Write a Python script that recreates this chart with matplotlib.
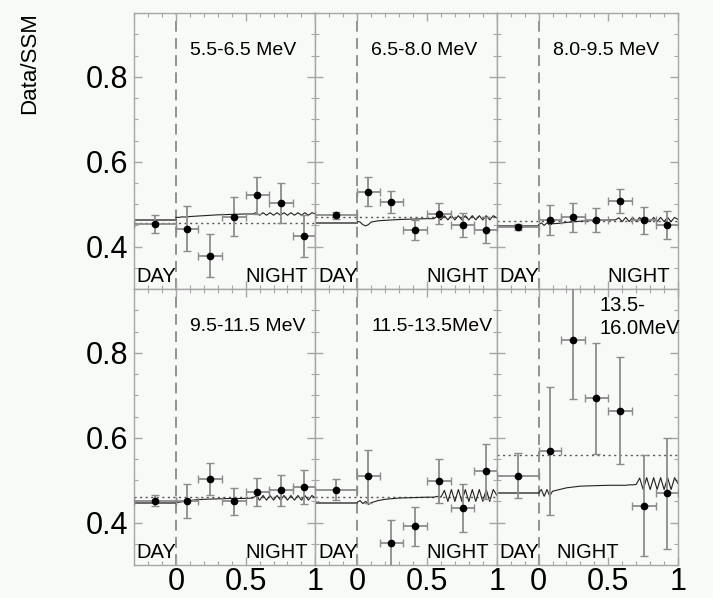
import matplotlib
matplotlib.use("Agg")
import matplotlib.pyplot as plt
import numpy as np
from matplotlib.ticker import MultipleLocator, FixedLocator

plt.rcParams['font.family'] = ['Liberation Sans', 'DejaVu Sans']

# energy bins, one panel each
energy_bins = ['5.5-6.5 MeV', '6.5-8.0 MeV', '8.0-9.5 MeV',
               '9.5-11.5 MeV', '11.5-13.5MeV', '13.5-\n16.0MeV']

# day bin (drawn over the visible part of cos(theta_z) < 0)
day_x, day_xerr = -0.15, 0.15
day_ratio = [0.453, 0.474, 0.447, 0.452, 0.478, 0.511]
day_err = [0.021, 0.008, 0.007, 0.012, 0.024, 0.052]

# night bins in cos(theta_z)
night_edges = [0.0, 0.16, 0.33, 0.50, 0.67, 0.84, 1.0]
night_ratio = [
    [0.442, 0.379, 0.470, 0.521, 0.503, 0.425],
    [0.529, 0.506, 0.439, 0.478, 0.451, 0.439],
    [0.463, 0.469, 0.463, 0.508, 0.462, 0.451],
    [0.450, 0.503, 0.450, 0.473, 0.476, 0.484],
    [0.509, 0.352, 0.391, 0.498, 0.434, 0.521],
    [0.569, 0.831, 0.693, 0.664, 0.440, 0.469],
]
night_err = [
    [0.053, 0.050, 0.046, 0.043, 0.047, 0.049],
    [0.034, 0.026, 0.023, 0.025, 0.029, 0.030],
    [0.036, 0.035, 0.029, 0.029, 0.032, 0.034],
    [0.040, 0.037, 0.031, 0.033, 0.037, 0.039],
    [0.063, 0.054, 0.047, 0.051, 0.057, 0.065],
    [0.150, 0.140, 0.131, 0.127, 0.119, 0.130],
]

# flat average (dotted) and MSW expectation (solid)
average_ratio = [0.456, 0.470, 0.460, 0.460, 0.460, 0.560]
msw_day = [0.463, 0.456, 0.449, 0.447, 0.446, 0.470]
msw_x = [0.0, 0.02, 0.04, 0.06, 0.08, 0.10, 0.15, 0.2, 0.3, 0.4, 0.5, 0.55,
         0.575, 0.6, 0.625, 0.65, 0.675, 0.7, 0.725, 0.75, 0.775, 0.8,
         0.825, 0.85, 0.875, 0.9, 0.925, 0.95, 0.975, 1.0]
msw_night = [
    [0.469, 0.469, 0.470, 0.470, 0.470, 0.471, 0.472, 0.473, 0.475, 0.476, 0.477, 0.477,
     0.480, 0.474, 0.480, 0.474, 0.480, 0.474, 0.480, 0.474, 0.480, 0.474,
     0.480, 0.474, 0.480, 0.474, 0.480, 0.474, 0.480, 0.477],
    [0.460, 0.458, 0.452, 0.449, 0.452, 0.458, 0.461, 0.462, 0.464, 0.465, 0.466, 0.466,
     0.472, 0.463, 0.473, 0.463, 0.473, 0.463, 0.473, 0.463, 0.473, 0.463,
     0.473, 0.463, 0.473, 0.463, 0.473, 0.463, 0.473, 0.468],
    [0.452, 0.456, 0.450, 0.456, 0.451, 0.454, 0.455, 0.457, 0.460, 0.462, 0.463, 0.463,
     0.468, 0.459, 0.469, 0.459, 0.469, 0.459, 0.469, 0.459, 0.469, 0.459,
     0.469, 0.459, 0.469, 0.459, 0.469, 0.459, 0.469, 0.464],
    [0.447, 0.448, 0.449, 0.450, 0.451, 0.452, 0.454, 0.455, 0.456, 0.457, 0.457, 0.458,
     0.463, 0.453, 0.464, 0.453, 0.464, 0.453, 0.464, 0.453, 0.464, 0.453,
     0.464, 0.453, 0.464, 0.453, 0.464, 0.453, 0.464, 0.458],
    [0.448, 0.452, 0.445, 0.450, 0.443, 0.447, 0.452, 0.455, 0.458, 0.459, 0.460, 0.460,
     0.462, 0.460, 0.476, 0.450, 0.478, 0.450, 0.478, 0.450, 0.478, 0.450,
     0.478, 0.450, 0.478, 0.450, 0.478, 0.450, 0.478, 0.465],
    [0.470, 0.478, 0.462, 0.478, 0.463, 0.474, 0.478, 0.482, 0.486, 0.487, 0.488, 0.488,
     0.488, 0.488, 0.488, 0.489, 0.489, 0.490, 0.505, 0.478, 0.506, 0.478,
     0.506, 0.478, 0.506, 0.478, 0.506, 0.478, 0.506, 0.492],
]

bg = '#f8faf7'
frame = '#a6a6a6'
ebar = '#8c8c8c'

fig, axes = plt.subplots(2, 3, figsize=(7.13, 5.98), dpi=100, sharex=True, sharey=True)
fig.patch.set_facecolor(bg)
fig.subplots_adjust(left=0.188, right=0.951, bottom=0.055, top=0.978, wspace=0, hspace=0)

edges = np.array(night_edges)
night_x = (edges[:-1] + edges[1:]) / 2
night_xerr = (edges[1:] - edges[:-1]) / 2

for i, ax in enumerate(axes.flat):
    ax.set_facecolor(bg)
    ax.set_xlim(-0.3, 1.0)
    ax.set_ylim(0.3, 0.95)

    # expectations
    ax.axhline(average_ratio[i], color='#555555', lw=1.0, ls=(0, (1.5, 2.5)), zorder=1)
    ax.plot([-0.3, 0.0], [msw_day[i]] * 2, color='#666666', lw=1.4, zorder=2)
    ax.plot(msw_x, msw_night[i], color='#222222', lw=0.8, zorder=2)

    # day / night boundary
    ax.axvline(0.0, color='#8a8a8a', lw=1.3, ls=(0, (6, 3.5)), zorder=1)

    # measurements
    ax.errorbar([day_x], [day_ratio[i]], xerr=[day_xerr], yerr=[day_err[i]],
                fmt='o', color='black', ms=4.5, ecolor=ebar, elinewidth=1.3,
                capsize=3, capthick=1.0, zorder=3)
    ax.errorbar(night_x, night_ratio[i], xerr=night_xerr, yerr=night_err[i],
                fmt='o', color='black', ms=4.5, ecolor=ebar, elinewidth=1.3,
                capsize=3, capthick=1.0, zorder=3)

    # energy bin title
    if i == 5:
        ax.text(0.436, 0.934, energy_bins[i], fontsize=14.5, va='top', ha='left',
                linespacing=1.25)
    else:
        ax.text(0.10, 0.863, energy_bins[i], fontsize=14, va='center', ha='left')

    ax.text(-0.28, 0.316, 'DAY', fontsize=14.5, va='baseline', ha='left')
    if i == 5:
        ax.text(0.13, 0.316, 'NIGHT', fontsize=14.5, va='baseline', ha='left')
    else:
        ax.text(0.945, 0.316, 'NIGHT', fontsize=14.5, va='baseline', ha='right')

    for s in ax.spines.values():
        s.set_color(frame)
        s.set_linewidth(1.0)

    ax.xaxis.set_major_locator(FixedLocator([0, 0.5, 1.0]))
    ax.xaxis.set_minor_locator(MultipleLocator(0.1))
    ax.yaxis.set_major_locator(FixedLocator([0.4, 0.6, 0.8]))
    ax.yaxis.set_minor_locator(MultipleLocator(0.05))
    ax.tick_params(which='both', direction='in', top=True, right=True,
                   color=frame, labelcolor='black', labelsize=22)
    ax.tick_params(which='major', length=6, width=1.0)
    ax.tick_params(which='minor', length=3, width=0.8)
    ax.tick_params(axis='y', pad=4)
    ax.tick_params(axis='x', pad=1.5)

for ax in axes[1]:
    ax.set_xticklabels(['0', '0.5', '1'])
for ax in axes[:, 0]:
    ax.set_yticklabels(['0.4', '0.6', '0.8'])

fig.text(0.042, 0.98, 'Data/SSM', rotation=90, fontsize=16, ha='center', va='top')

fig.savefig('out.png', dpi=100, facecolor=bg)
